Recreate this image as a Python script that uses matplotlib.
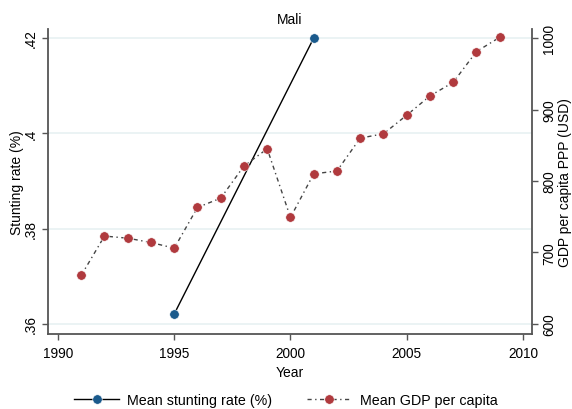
import matplotlib
matplotlib.use("Agg")
import matplotlib.pyplot as plt
from matplotlib.lines import Line2D

plt.rcParams['font.family'] = ['Liberation Sans', 'DejaVu Sans']

stunt_years = [1995, 2001]
stunt_vals = [0.3621, 0.4200]

gdp_years = [1991, 1992, 1993, 1994, 1995, 1996, 1997, 1998, 1999, 2000,
             2001, 2002, 2003, 2004, 2005, 2006, 2007, 2008, 2009]
gdp_vals = [668, 723, 720, 714, 706, 763, 776, 821, 845, 749,
            810, 814, 860, 866, 892, 919, 938, 981, 1001]

left_ticks = [0.36, 0.38, 0.40, 0.42]
left_labels = ['.36', '.38', '.4', '.42']
right_ticks = [600, 700, 800, 900, 1000]
x_ticks = [1990, 1995, 2000, 2005, 2010]

blue = '#1a5a8c'
red = '#b03a3e'
axis_col = '#555555'
grid_col = '#e8f1f2'

fig = plt.figure(figsize=(5.72, 4.10), dpi=100)
ax = fig.add_axes([48/572, 1-335/410, (532-48)/572, (335-30)/410])
ax2 = ax.twinx()

ax.set_xlim(1989.57, 2010.39)
ax.set_ylim(0.3579, 0.4219)
ax2.set_ylim(586, 1012.6)

ax.set_yticks(left_ticks)
ax.set_yticklabels(left_labels, rotation=90, va='center')
ax2.set_yticks(right_ticks)
ax2.set_yticklabels([str(t) for t in right_ticks], rotation=90, va='center')
ax.set_xticks(x_ticks)

ax.grid(axis='y', color=grid_col, lw=1.2)
ax.set_axisbelow(True)

ax.plot(stunt_years, stunt_vals, color='black', lw=1.0, marker='o', ms=6.8,
        mfc=blue, mec='white', mew=0.4, zorder=3)
ax2.plot(gdp_years, gdp_vals, color='#444444', lw=1.0, ls=(0, (3, 2.5, 1, 2.5)),
         marker='o', ms=6.8, mfc=red, mec='white', mew=0.4, zorder=3)

for a in (ax, ax2):
    a.spines['top'].set_visible(False)
    a.tick_params(colors='black', labelsize=9.8, width=1, length=4, color=axis_col)
ax.tick_params(axis='x', pad=5)
ax.spines['right'].set_visible(False)
ax2.spines['left'].set_visible(False)
ax2.spines['right'].set_color(axis_col)
ax2.spines['bottom'].set_visible(False)
ax.spines['left'].set_color(axis_col)
ax.spines['bottom'].set_color(axis_col)
for s in ax.spines.values():
    s.set_linewidth(1.3)
for s in ax2.spines.values():
    s.set_linewidth(1.3)

ax.set_xlabel('Year', fontsize=10, labelpad=3)
ax.set_ylabel('Stunting rate (%)', fontsize=10, labelpad=0)
ax2.set_ylabel('GDP per capita PPP (USD)', fontsize=10, labelpad=1)
ax.set_title('Mali', fontsize=10, pad=4)

h1 = Line2D([], [], color='black', lw=1.0, marker='o', ms=6.8, mfc=blue, mec='white', mew=0.4)
h2 = Line2D([], [], color='#444444', lw=1.0, ls=(0, (3, 2.5, 1, 2.5)), marker='o', ms=6.8,
            mfc=red, mec='white', mew=0.4)
fig.legend([h1, h2], ['Mean stunting rate (%)', 'Mean GDP per capita'], ncol=2,
           loc='center', bbox_to_anchor=(0.5, 1-401/410), frameon=False,
           fontsize=10.3, handlelength=3.1, columnspacing=2.4, handletextpad=0.6)

fig.savefig('out.png', dpi=100)
